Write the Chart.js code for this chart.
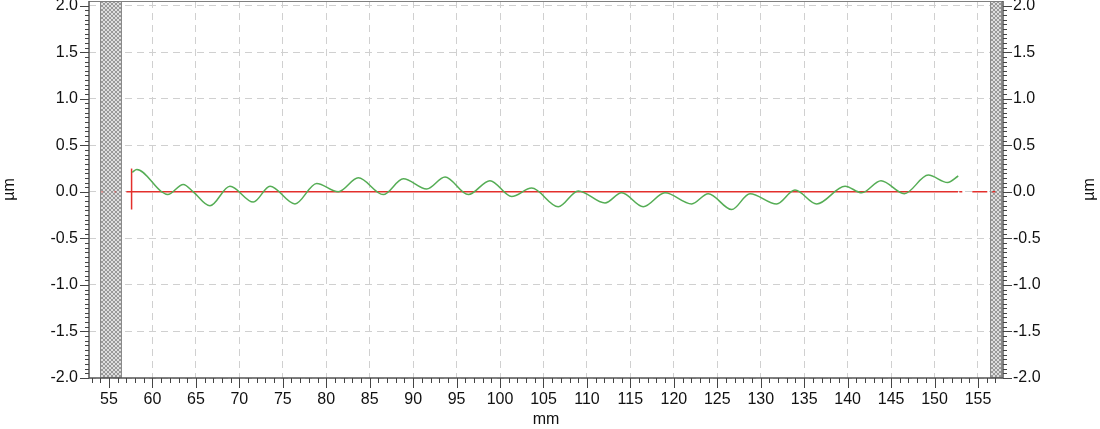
<!DOCTYPE html>
<html><head><meta charset="utf-8">
<script src="https://cdn.jsdelivr.net/npm/chart.js@4.4.1/dist/chart.umd.min.js"></script>
<style>html,body{margin:0;padding:0;background:#fff;overflow:hidden}#wrap{width:1100px;height:429px;position:relative}</style>
</head><body><div id="wrap"><canvas id="c" width="1100" height="429"></canvas></div>
<script>
// ---- data (mm, µm) ----
const profileX = [57.68, 58.2, 61.06, 61.75, 63.55, 64.70, 66.62, 68.92, 71.61, 73.53, 76.40, 78.90, 81.39, 83.69, 86.56, 88.87, 91.56, 93.67, 96.35, 98.84, 101.34, 103.64, 106.70, 109.00, 112.08, 114.00, 116.48, 118.98, 122.05, 123.96, 126.66, 128.76, 131.83, 133.94, 136.44, 139.70, 141.62, 143.84, 146.52, 149.28, 151.51, 152.73];
const profileY = [0.21, 0.24, 0.00, -0.03, 0.08, 0.00, -0.15, 0.06, -0.11, 0.06, -0.13, 0.09, 0.00, 0.15, -0.03, 0.14, 0.03, 0.16, -0.03, 0.12, -0.05, 0.04, -0.16, 0.01, -0.12, -0.01, -0.16, -0.01, -0.13, -0.02, -0.19, -0.02, -0.13, 0.02, -0.13, 0.06, -0.01, 0.12, -0.02, 0.18, 0.10, 0.17];
const referenceX = [57.0, 152.7];
const referenceY = [0, 0];
const referenceTailX = [152.85, 157.88];
const referenceTailY = [0, 0];
const referenceHeadX = [54.1, 56.5];
const referenceHeadY = [0, 0];
const markerX = [57.6, 57.6];
const markerY = [-0.19, 0.25];
const xTickValues = [55, 60, 65, 70, 75, 80, 85, 90, 95, 100, 105, 110, 115, 120, 125, 130, 135, 140, 145, 150, 155];
const yTickValues = [-2.0, -1.5, -1.0, -0.5, 0.0, 0.5, 1.0, 1.5, 2.0];
const excludedStart = [53.96, 156.38];
const excludedEnd = [56.5, 157.76];
const xRange = [52.7, 157.88];
const yRange = [-2.0, 2.05];
const xTitle = 'mm';
const yTitle = 'µm';

const pts = (xs, ys) => xs.map((v, i) => ({x: v, y: ys[i]}));
const FONT = {family: '"Liberation Sans", Arial, sans-serif', size: 16};
const TXT = '#111';

function makePattern(ctx){
  const c = document.createElement('canvas'); c.width = 4; c.height = 4;
  const g = c.getContext('2d');
  g.fillStyle = '#dedede'; g.fillRect(0,0,4,4);
  g.fillStyle = '#999999';
  for (let i=0;i<4;i++){ g.fillRect(i,i,1,1); g.fillRect(3-i,i,1,1); }
  return ctx.createPattern(c, 'repeat');
}

const decor = {
  id: 'decor',
  beforeDatasetsDraw(chart){
    const {ctx, chartArea: a, scales: {x}} = chart;
    ctx.save();
    const pat = makePattern(ctx);
    for (let i = 0; i < excludedStart.length; i++){
      const x0 = Math.round(x.getPixelForValue(excludedStart[i]));
      const x1 = Math.round(x.getPixelForValue(excludedEnd[i]));
      ctx.fillStyle = pat;
      ctx.fillRect(x0, a.top, x1 - x0, a.bottom - a.top);
      ctx.strokeStyle = '#8a8a8a'; ctx.lineWidth = 1;
      ctx.strokeRect(x0 + 0.5, a.top + 0.5, x1 - x0 - 1, a.bottom - a.top - 1);
    }
    ctx.restore();
  },
  afterDraw(chart){
    const {ctx, chartArea: a, scales: {x, y}} = chart;
    ctx.save();
    ctx.strokeStyle = '#808080'; ctx.lineWidth = 1;
    ctx.beginPath(); ctx.moveTo(a.left, a.top + 0.5); ctx.lineTo(a.right, a.top + 0.5); ctx.stroke();
    ctx.strokeStyle = '#555'; ctx.lineWidth = 1.5;
    ctx.beginPath();
    ctx.moveTo(a.left, a.top); ctx.lineTo(a.left, a.bottom); ctx.lineTo(a.right, a.bottom); ctx.lineTo(a.right, a.top);
    ctx.stroke();
    ctx.lineWidth = 1; ctx.strokeStyle = '#444';
    ctx.beginPath();
    for (let v = Math.ceil(xRange[0]); v <= xRange[1]; v++){
      const px = Math.round(x.getPixelForValue(v)) + 0.5;
      const len = (v % 5 === 0) ? 10 : 5;
      ctx.moveTo(px, a.bottom); ctx.lineTo(px, a.bottom + len);
    }
    for (let k = -40; k <= 40; k++){
      const py = Math.round(y.getPixelForValue(k * 0.05)) + 0.5;
      const len = (k % 10 === 0) ? 9 : 4;
      ctx.moveTo(a.left, py); ctx.lineTo(a.left - len, py);
      ctx.moveTo(a.right, py); ctx.lineTo(a.right + len, py);
    }
    ctx.stroke();
    ctx.fillStyle = TXT;
    ctx.font = `${FONT.size}px ${FONT.family}`;
    ctx.textAlign = 'center'; ctx.textBaseline = 'middle';
    ctx.translate(1090, (a.top + a.bottom) / 2);
    ctx.rotate(-Math.PI / 2);
    ctx.fillText(yTitle, 0, 0);
    ctx.restore();
  }
};

const fitTo = (w, h) => (scale) => {
  if (w !== null) scale.width = w;
  if (h !== null) scale.height = h;
  scale.paddingTop = 0; scale.paddingBottom = 0; scale.paddingLeft = 0; scale.paddingRight = 0;
};

new Chart(document.getElementById('c'), {
  type: 'line',
  data: {
    datasets: [
      {data: pts(profileX, profileY), borderColor: '#55ad55', borderWidth: 1.5, pointRadius: 0, cubicInterpolationMode: 'monotone', order: 0},
      {data: pts(referenceX, referenceY), borderColor: '#e3302c', borderWidth: 1.5, pointRadius: 0, order: 1},
      {data: pts(referenceTailX, referenceTailY), borderColor: '#e3302c', borderWidth: 1.5, pointRadius: 0, borderDash: [3, 10, 15, 5], order: 1},
      {data: pts(referenceHeadX, referenceHeadY), borderColor: 'rgba(227,48,44,0.6)', borderWidth: 1.2, pointRadius: 0, borderDash: [2, 11], order: 1},
      {data: pts(markerX, markerY), borderColor: '#e3302c', borderWidth: 1.5, pointRadius: 0, order: 1}
    ]
  },
  options: {
    responsive: false, animation: false, devicePixelRatio: 1,
    layout: {padding: {top: 1, left: 0, right: 0, bottom: 0}},
    plugins: {legend: {display: false}, tooltip: {enabled: false}},
    scales: {
      x: {
        type: 'linear', position: 'bottom', min: xRange[0], max: xRange[1],
        afterBuildTicks: (s) => { s.ticks = xTickValues.map(v => ({value: v})); },
        afterFit: fitTo(null, 51),
        ticks: {font: FONT, color: TXT, padding: 12, maxRotation: 0, autoSkip: false, callback: (v) => String(v)},
        grid: {color: '#d0d0d0', lineWidth: 1, drawTicks: false},
        border: {display: false, dash: [7, 5]},
        title: {display: true, text: xTitle, font: FONT, color: TXT, padding: {top: 0, bottom: 0}}
      },
      y: {
        type: 'linear', position: 'left', min: yRange[0], max: yRange[1],
        afterBuildTicks: (s) => { s.ticks = yTickValues.map(v => ({value: v})); },
        afterFit: fitTo(89, null),
        ticks: {font: FONT, color: TXT, padding: 11, callback: (v) => Number(v).toFixed(1)},
        grid: {color: '#d0d0d0', lineWidth: 1, drawTicks: false},
        border: {display: false, dash: [7, 5]},
        title: {display: true, text: yTitle, font: FONT, color: TXT, padding: {top: 0, bottom: 0}}
      },
      y2: {
        type: 'linear', position: 'right', min: yRange[0], max: yRange[1],
        afterBuildTicks: (s) => { s.ticks = yTickValues.map(v => ({value: v})); },
        afterFit: fitTo(97, null),
        ticks: {font: FONT, color: TXT, padding: 10, callback: (v) => Number(v).toFixed(1)},
        grid: {display: false, drawTicks: false},
        border: {display: false}
      }
    }
  },
  plugins: [decor]
});
</script></body></html>
